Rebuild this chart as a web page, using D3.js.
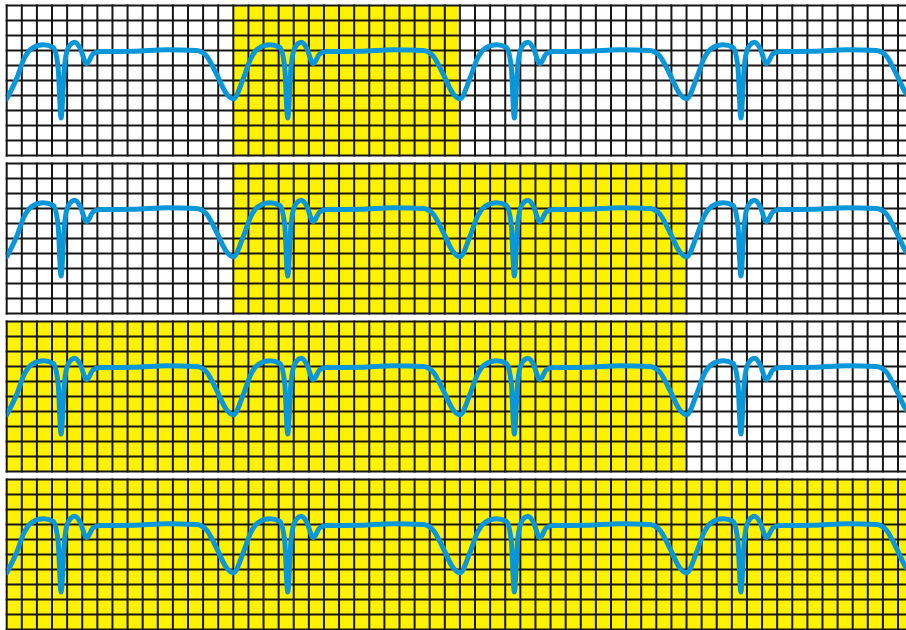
<!DOCTYPE html>
<html>
<head>
<meta charset="utf-8">
<script src="https://cdn.jsdelivr.net/npm/d3@7"></script>
<style>
  html, body { margin: 0; padding: 0; background: #ffffff; overflow: hidden; }
  svg { display: block; }
</style>
</head>
<body>
<div id="chart"></div>
<script>
// ---- data ----
// one beat of the waveform: x in grid cells from beat start, y in grid rows above panel bottom
const beatX = [0.00, 0.66, 1.15, 1.65, 2.43, 3.08, 3.40, 3.60, 3.82, 4.08, 4.51, 4.84, 5.29, 5.73, 6.17, 8.40, 10.60, 12.56, 13.20, 13.88, 14.54];
const beatY = [3.78, 5.13, 6.45, 7.13, 7.38, 7.20, 5.90, 2.50, 5.90, 7.20, 7.55, 7.20, 6.13, 6.78, 6.93, 6.95, 7.05, 7.00, 6.67, 5.45, 4.13];
const beatStarts = [0, 15, 30, 45, 60];
// highlighted (yellow) cell ranges for each strip
const highlightStart = [15, 15, 0, 0];
const highlightEnd = [30, 45, 45, 60];
const cols = 60, rows = 10;

// ---- layout ----
const W = 906, H = 630;
const x0 = 6.7, cellW = 15.107;
const panelTop0 = 5.5, panelStep = 158, panelH = 150;

const svg = d3.select("#chart").append("svg").attr("width", W).attr("height", H);

const x = d3.scaleLinear().domain([0, cols]).range([x0, x0 + cols * cellW]);
const y = d3.scaleLinear().domain([0, rows]).range([panelH, 0]);

// assemble the waveform points from repeated beats
const wave = [];
beatStarts.forEach(s => {
  beatX.forEach((bx, i) => wave.push([s + bx, beatY[i]]));
});

const line = d3.line()
  .x(d => x(d[0]))
  .y(d => y(d[1]))
  .curve(d3.curveMonotoneX);

highlightStart.forEach((hs, p) => {
  const g = svg.append("g").attr("transform", `translate(0,${panelTop0 + p * panelStep})`);

  g.append("clipPath").attr("id", "clip" + p)
    .append("rect").attr("x", x(0)).attr("y", 0).attr("width", x(cols) - x(0)).attr("height", panelH);

  // background
  g.append("rect").attr("x", x(0)).attr("y", 0)
    .attr("width", x(cols) - x(0)).attr("height", panelH).attr("fill", "#ffffff");
  g.append("rect").attr("x", x(hs)).attr("y", 0)
    .attr("width", x(highlightEnd[p]) - x(hs)).attr("height", panelH).attr("fill", "#fff200");

  // grid
  g.append("g").selectAll("line.v").data(d3.range(0, cols + 1)).join("line")
    .attr("x1", d => x(d)).attr("x2", d => x(d))
    .attr("y1", y(0) + 1).attr("y2", y(rows) - 1)
    .attr("stroke", "#161616").attr("stroke-width", 2);
  g.append("g").selectAll("line.h").data(d3.range(0, rows + 1)).join("line")
    .attr("x1", x(0) - 1).attr("x2", x(cols) + 1)
    .attr("y1", d => y(d)).attr("y2", d => y(d))
    .attr("stroke", "#161616").attr("stroke-width", 2);

  // waveform
  g.append("path").datum(wave)
    .attr("clip-path", `url(#clip${p})`)
    .attr("d", line)
    .attr("fill", "none")
    .attr("stroke", "#0a97d9")
    .attr("stroke-width", 5)
    .attr("stroke-linejoin", "round")
    .attr("stroke-linecap", "round");
});
</script>
</body>
</html>
